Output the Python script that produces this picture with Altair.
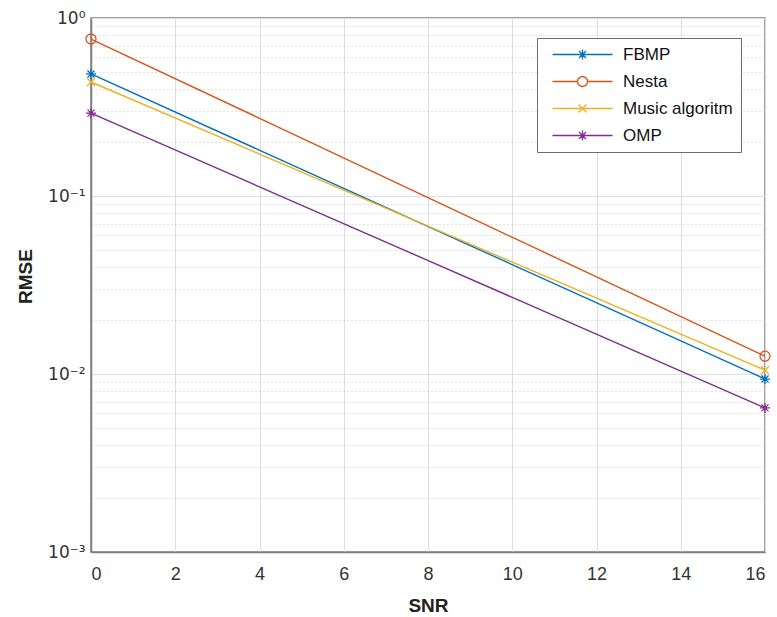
import altair as alt
import pandas as pd

# ---- data ----
series = ["FBMP", "Nesta", "Music algoritm", "OMP"]
snr = [0, 16]
fbmp = [0.485, 0.00937]
nesta = [0.762, 0.0126]
music = [0.437, 0.0105]
omp = [0.292, 0.00645]
colors = ["#0072BD", "#D95319", "#EDB120", "#7E2F8E"]
x_ticks = [0, 2, 4, 6, 8, 10, 12, 14, 16]
y_ticks = [round(k * 10.0 ** e, 6) for e in (-3, -2, -1) for k in range(1, 10)] + [1]

rows = []
for name, vals in zip(series, [fbmp, nesta, music, omp]):
    for x, v in zip(snr, vals):
        rows.append({"SNR": x, "RMSE": v, "series": name})
df = pd.DataFrame(rows)

FONT = "Liberation Sans"

# marker paths (unit box)
AST = "M-1,0L1,0M0,-1L0,1M-0.7,-0.7L0.7,0.7M-0.7,0.7L0.7,-0.7"
CIRC = "M-1,0A1,1,0,1,1,1,0A1,1,0,1,1,-1,0Z"
XM = "M-0.8,-0.8L0.8,0.8M-0.8,0.8L0.8,-0.8"
markers = [AST, CIRC, XM, AST]
# legend symbols: line segment + marker
LSEG = "M-6,0L6,0"
legend_paths = [LSEG + AST, "M-6,0L-1,0M1,0L6,0" + CIRC, LSEG + XM, LSEG + AST]

decade = "abs(log(datum.value)/LN10 - round(log(datum.value)/LN10)) < 0.001"

xaxis = alt.Axis(
    values=x_ticks, title="SNR", ticks=False, tickSize=0,
    labelFont=FONT, labelFontSize=18, labelColor="#333333", labelPadding=13,
    titleFont=FONT, titleFontSize=19, titleFontWeight="bold", titleColor="#222222",
    titleY=53, titleBaseline="middle",
    grid=True, gridColor="#dedede", gridWidth=1,
    domainColor="#7f7f7f", domainWidth=1.5,
)
yaxis = alt.Axis(
    values=y_ticks, title="RMSE", ticks=False, tickSize=0,
    labelExpr="datum.value == 1 ? '10⁰' : datum.value == 0.1 ? '10⁻¹' : "
              "datum.value == 0.01 ? '10⁻²' : datum.value == 0.001 ? '10⁻³' : ''",
    labelFont="DejaVu Sans", labelFontSize=17, labelColor="#333333", labelPadding=6,
    titleFont=FONT, titleFontSize=19, titleFontWeight="bold", titleColor="#222222",
    titleX=-66, titleY=258, titleBaseline="middle", titleAngle=-90,
    grid=True,
    gridDash={"condition": {"test": decade, "value": []}, "value": [1, 3]},
    gridColor={"condition": {"test": decade, "value": "#dedede"}, "value": "#c4c4c4"},
    domainColor="#7f7f7f", domainWidth=1.5,
)

legend = alt.Legend(
    title=None, orient="none", legendX=446, legendY=20, padding=8,
    symbolSize=100, symbolOffset=29, labelOffset=32, symbolStrokeWidth=1.3,
    symbolOpacity=1, labelFont=FONT, labelFontSize=17, labelColor="#111111",
    rowPadding=9, strokeColor="#6e6e6e", fillColor="white",
)

X = alt.X("SNR:Q", scale=alt.Scale(domain=[0, 16], nice=False), axis=xaxis)
Y = alt.Y("RMSE:Q", scale=alt.Scale(type="log", domain=[0.001, 1], nice=False), axis=yaxis)
C = alt.Color("series:N", scale=alt.Scale(domain=series, range=colors), sort=series, legend=legend)

base = alt.Chart(df)
lines = base.mark_line(strokeWidth=1.4).encode(x=X, y=Y, color=C)

point_layers = []
for s, p in zip(series, markers):
    point_layers.append(
        base.transform_filter(alt.datum.series == s)
        .mark_point(shape=p, size=100, filled=False, strokeWidth=1.3, opacity=1)
        .encode(x=X, y=Y, color=C)
    )

legend_layer = (
    base.transform_filter("false")
    .mark_point(size=100, filled=False, strokeWidth=1.3, opacity=1)
    .encode(
        x=X, y=Y, color=C,
        shape=alt.Shape("series:N", scale=alt.Scale(domain=series, range=legend_paths),
                        sort=series, legend=legend),
    )
)

chart = (
    alt.layer(lines, *point_layers, legend_layer)
    .properties(
        width=674, height=534,
        autosize=alt.AutoSizeParams(type="none"),
        padding={"left": 91, "top": 18, "right": 12, "bottom": 65},
        background="white",
    )
    .configure_view(stroke="#7f7f7f", strokeWidth=1.5)
)

chart.save("out.html", embed_options={"renderer": "svg", "actions": False})
